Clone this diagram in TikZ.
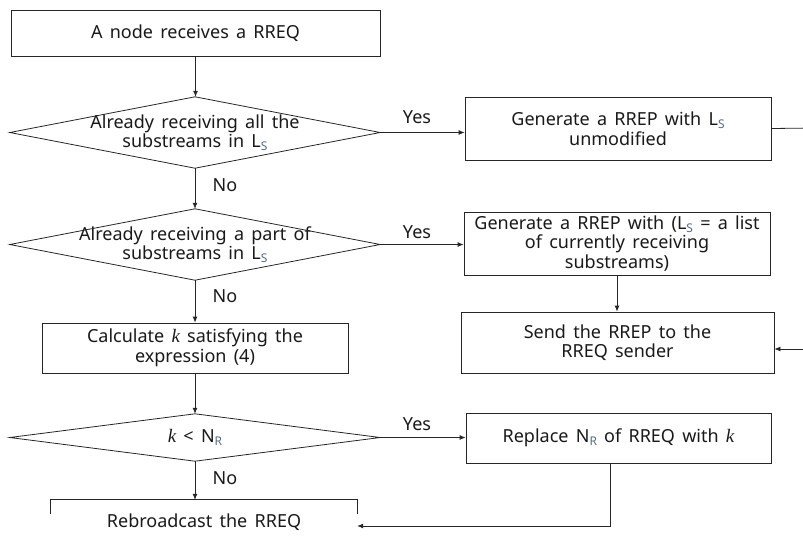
\documentclass[tikz,border=0pt]{standalone}
\usepackage{fontspec}
\setmainfont[WordSpace=1.55]{Noto Sans}
\newfontfamily\kfont{Liberation Serif}
\usetikzlibrary{arrows.meta,calc}
\definecolor{subc}{HTML}{5A6A85}
\newcommand{\mysub}[1]{\raisebox{-0.3ex}{\fontsize{12}{12}\selectfont\color{subc}#1}}
\newcommand{\kk}{{\kfont\itshape\fontsize{19}{19}\selectfont k}}
\begin{document}
\begin{tikzpicture}[x=1pt,y=-1pt,
  every node/.style={font=\fontsize{18}{19.5}\selectfont, text=black!90, align=center},
  box/.style={draw=black!85, line width=0.8pt, minimum width=#1, inner sep=0pt},
  dia/.style={minimum width=370pt, inner sep=0pt},
  arr/.style={draw=black!85, line width=0.8pt, -{Latex[length=6pt,width=5pt]}},
  ln/.style={draw=black!85, line width=0.8pt},
  lab/.style={font=\fontsize{18}{19.5}\selectfont}]
\useasboundingbox (0,0) rectangle (803,547);
% left column
\node[box=369pt, minimum height=46pt] (b1) at (195.5,33) {A node receives a RREQ};
\node[dia, minimum height=71pt] (d1) at (195,132.5) {Already receiving all the\\substreams in L\mysub{S}};
\draw[ln] (d1.west) -- (d1.north) -- (d1.east) -- (d1.south) -- cycle;
\node[dia, minimum height=71pt] (d2) at (195,244.5) {Already receiving a part of\\substreams in L\mysub{S}};
\draw[ln] (d2.west) -- (d2.north) -- (d2.east) -- (d2.south) -- cycle;
\node[box=306pt, minimum height=50pt] (b3) at (195,348) {Calculate \kk{} satisfying the\\expression (4)};
\node[dia, minimum height=47pt] (d3) at (195,437.5) {\kk{} < N\mysub{R}};
\draw[ln] (d3.west) -- (d3.north) -- (d3.east) -- (d3.south) -- cycle;
\node[minimum width=306pt, minimum height=44pt, inner sep=0pt] (b4) at (204,522) {Rebroadcast the RREQ};
\draw[ln] ([yshift=30pt]b4.south west) -- (b4.north west) -- (b4.north east) -- ([yshift=30pt]b4.south east);
% right column
\node[box=306pt, minimum height=63pt] (g1) at (618,128.5) {Generate a RREP with L\mysub{S}\\unmodified};
\node[box=306pt, minimum height=63pt] (g2) at (617,243.5) {Generate a RREP with (L\mysub{S} = a list\\of currently receiving\\substreams)};
\node[box=313pt, minimum height=61pt] (s) at (617.5,342.5) {Send the RREP to the\\RREQ sender};
\node[box=305pt, minimum height=50pt] (r) at (618.5,438) {Replace N\mysub{R} of RREQ with \kk};
% connectors
\draw[arr] (b1.south) -- (b1.south |- d1.north);
\draw[arr] (d1.south) -- (d2.north);
\draw[arr] (d2.south) -- (b3.north);
\draw[arr] (b3.south) -- (d3.north);
\draw[arr] (d3.south) -- (d3.south |- b4.north);
\node[lab] (n1) at (225,185) {No};
\node[lab] (n2) at (225,296) {No};
\node[lab] (n3) at (225,478) {No};
\draw[arr] (d1.east) -- (d1.east -| g1.west);
\draw[arr] (d2.east) -- (d2.east -| g2.west);
\draw[arr] (d3.east) -- (d3.east -| r.west);
\node[lab] (ya) at (417,117) {Yes};
\node[lab] (yb) at (417,232) {Yes};
\node[lab] (yc) at (417,424) {Yes};
\draw[arr] (g2.south) -- (g2.south |- s.north);
\coordinate (c1) at (815,128);
\coordinate (c2) at (815,349);
\draw[ln] (g1.east) -- (c1) -- (c2);
\draw[arr] (c2) -- (c2 -| s.east);
\coordinate (c3) at (610,526);
\draw[arr] (r.south -| c3) -- (c3) -- (c3 -| b4.east);
\end{tikzpicture}
\end{document}
